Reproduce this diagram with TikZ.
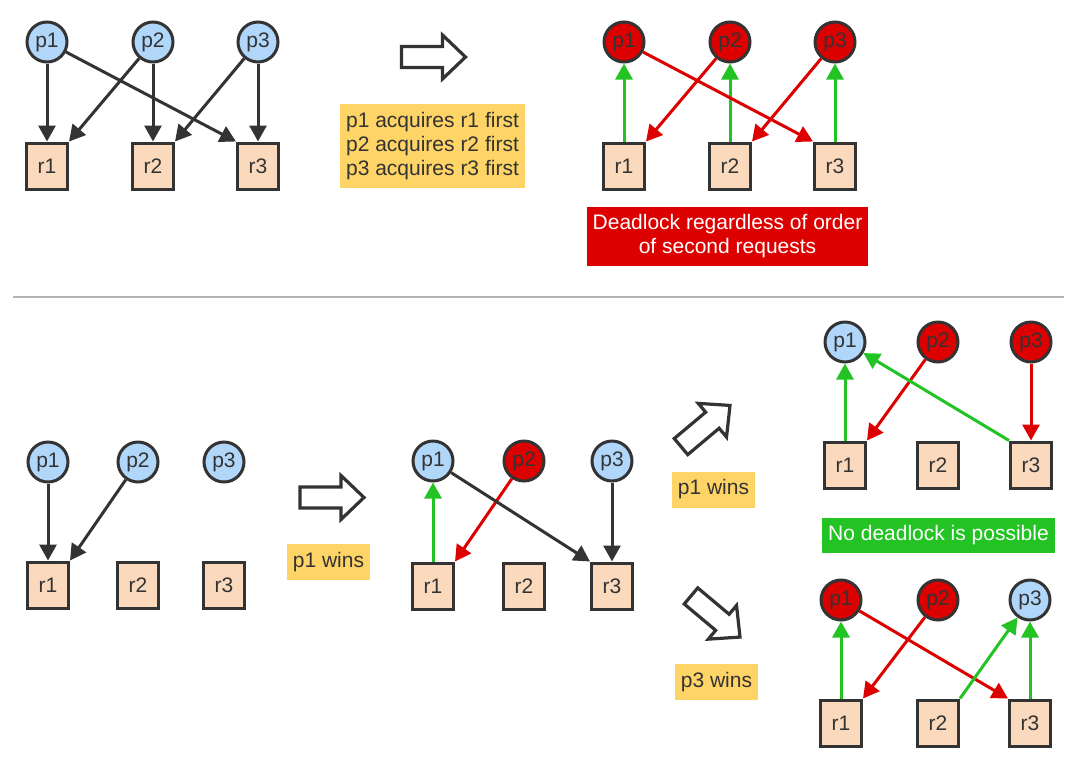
\documentclass[tikz,border=0pt]{standalone}
\usepackage{fontspec}
\setmainfont{Liberation Sans}
\usetikzlibrary{arrows.meta}
\definecolor{pblue}{HTML}{B0D6FA}
\definecolor{dred}{HTML}{DD0000}
\definecolor{peach}{HTML}{FAD9BC}
\definecolor{nyellow}{HTML}{FFD466}
\definecolor{dgreen}{HTML}{22C322}
\definecolor{dark}{HTML}{333333}
\definecolor{sepgray}{HTML}{B3B3B3}
\newcommand\blockarrow[2]{\draw[blockarr, shift={#1}, rotate=#2] (-32,-10.5) -- (9,-10.5) -- (9,-22) -- (32,0) -- (9,22) -- (9,10.5) -- (-32,10.5) -- cycle;}
\begin{document}
\begin{tikzpicture}[x=1pt,y=-1pt,
  lbl/.style={font=\fontsize{21}{24}\selectfont},
  proc/.style={circle, draw=dark, line width=3pt, fill=pblue, minimum size=40pt, inner sep=0pt, text=dark, lbl},
  dead/.style={proc, fill=dred},
  res/.style={rectangle, draw=dark, line width=3pt, fill=peach, minimum width=41pt, minimum height=46pt, inner sep=0pt, text=dark, lbl},
  req/.style={line width=3pt, draw=dark, -{Triangle[length=16pt,width=17pt]}},
  reqred/.style={req, draw=dred},
  grant/.style={req, draw=dgreen},
  note/.style={fill=nyellow, text=dark, inner sep=0pt, lbl},
  banner/.style={text=white, inner sep=0pt, align=center, lbl},
  blockarr/.style={draw=dark, fill=white, line width=3.2pt},
  sepline/.style={draw=sepgray, line width=2pt}
]
\useasboundingbox (0,0) rectangle (1068,756);

% ---------- top-left ----------
\node[proc] (ap1) at (47,42) {p1};
\node[proc] (ap2) at (153,42) {p2};
\node[proc] (ap3) at (258,42) {p3};
\node[res] (ar1) at (47,166) {r1};
\node[res] (ar2) at (153,166) {r2};
\node[res] (ar3) at (258,166) {r3};
\draw[req] (ap1) -- (ar1);
\draw[req] (ap2) -- (ar1.north east);
\draw[req] (ap2) -- (ar2);
\draw[req] (ap3) -- (ar2.north east);
\draw[req] (ap3) -- (ar3);
\draw[req] (ap1) -- (ar3.north west);

\blockarrow{(433.5,57)}{0}
\node[note, minimum width=185pt, minimum height=84pt, align=left] (n1) at (432.5,146) {p1 acquires r1 first\\p2 acquires r2 first\\p3 acquires r3 first};

% ---------- top-right ----------
\node[dead] (bp1) at (624,42) {p1};
\node[dead] (bp2) at (730,42) {p2};
\node[dead] (bp3) at (835,42) {p3};
\node[res] (br1) at (624,166) {r1};
\node[res] (br2) at (730,166) {r2};
\node[res] (br3) at (835,166) {r3};
\draw[grant] (br1) -- (bp1);
\draw[grant] (br2) -- (bp2);
\draw[grant] (br3) -- (bp3);
\draw[reqred] (bp1) -- (br3.north west);
\draw[reqred] (bp2) -- (br1.north east);
\draw[reqred] (bp3) -- (br2.north east);
\node[banner, fill=dred, minimum width=281pt, minimum height=59pt] (n2) at (727.5,236.5) {Deadlock regardless of order\\of second requests};

% ---------- separator ----------
\draw[sepline] (13,297) -- (1064,297);

% ---------- bottom-left ----------
\node[proc] (cp1) at (48,462) {p1};
\node[proc] (cp2) at (138,462) {p2};
\node[proc] (cp3) at (224,462) {p3};
\node[res] (cr1) at (48,585) {r1};
\node[res] (cr2) at (138,585) {r2};
\node[res] (cr3) at (224,585) {r3};
\draw[req] (cp1) -- (cr1);
\draw[req] (cp2) -- (cr1.north east);

\blockarrow{(332,497.5)}{0}
\node[note, minimum width=83pt, minimum height=36pt] (n3) at (328.5,562) {p1 wins};

% ---------- bottom-middle ----------
\node[proc] (dp1) at (433,461) {p1};
\node[dead] (dp2) at (524,461) {p2};
\node[proc] (dp3) at (612,461) {p3};
\node[res] (dr1) at (433,586) {r1};
\node[res] (dr2) at (524,586) {r2};
\node[res] (dr3) at (612,586) {r3};
\draw[grant] (dr1) -- (dp1);
\draw[reqred] (dp2) -- (dr1.north east);
\draw[req] (dp1) -- (dr3.north west);
\draw[req] (dp3) -- (dr3);

\blockarrow{(705.5,426)}{40}
\node[note, minimum width=83pt, minimum height=36pt] (n4) at (713.5,489.5) {p1 wins};
\blockarrow{(715.5,616.5)}{-40}
\node[note, minimum width=83pt, minimum height=36pt] (n5) at (716.5,682) {p3 wins};

% ---------- bottom-right, top ----------
\node[proc] (ep1) at (845,342) {p1};
\node[dead] (ep2) at (938,342) {p2};
\node[dead] (ep3) at (1031,342) {p3};
\node[res] (er1) at (845,465) {r1};
\node[res] (er2) at (938,465) {r2};
\node[res] (er3) at (1031,465) {r3};
\draw[grant] (er1) -- (ep1);
\draw[reqred] (ep2) -- (er1.north east);
\draw[grant] (er3.north west) -- (ep1);
\draw[reqred] (ep3) -- (er3);

\node[banner, fill=dgreen, minimum width=233pt, minimum height=35pt] (n6) at (938.5,535.5) {No deadlock is possible};

% ---------- bottom-right, bottom ----------
\node[dead] (fp1) at (841,600) {p1};
\node[dead] (fp2) at (938,600) {p2};
\node[proc] (fp3) at (1030,600) {p3};
\node[res] (fr1) at (841,723) {r1};
\node[res] (fr2) at (938,723) {r2};
\node[res] (fr3) at (1030,723) {r3};
\draw[grant] (fr1) -- (fp1);
\draw[reqred] (fp2) -- (fr1.north east);
\draw[reqred] (fp1) -- (fr3.north west);
\draw[grant] (fr2.north east) -- (fp3);
\draw[grant] (fr3) -- (fp3);
\end{tikzpicture}
\end{document}
